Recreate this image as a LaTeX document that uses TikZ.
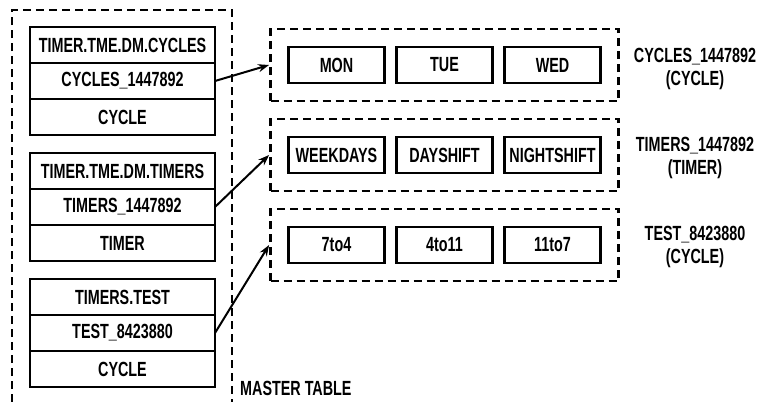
\documentclass[tikz,border=0pt]{standalone}
\usepackage{fontspec}
\setmainfont[FakeStretch=0.7]{Liberation Sans}
\usepackage{tikz}
\usetikzlibrary{arrows.meta,positioning,fit}

\begin{document}
\begin{tikzpicture}[
    x=1pt, y=-1pt,
    font=\fontsize{20.5}{23}\selectfont\bfseries,
    cell/.style={rectangle, draw=black, line width=2.8pt, outer sep=0pt, minimum width=185pt, minimum height=36pt, inner sep=0pt},
    daybox/.style={rectangle, draw=black, line width=2.8pt, outer sep=0pt, minimum width=96pt, minimum height=36pt, inner sep=0pt},
    grp/.style={draw=black, line width=2.8pt, dash pattern=on 8pt off 5pt},
    ptr/.style={-{Stealth[length=11pt,width=8pt]}, line width=2pt},
    tag/.style={align=center, inner sep=0pt}
]
\useasboundingbox (0,0) rectangle (764,402);

% Master table
\node[cell] (cyc1) at (122.5,45) {TIMER.TME.DM.CYCLES};
\node[cell, below=0pt of cyc1] (cyc2) {CYCLES\_1447892};
\node[cell, below=0pt of cyc2] (cyc3) {CYCLE};

\node[cell] (tim1) at (122.5,171) {TIMER.TME.DM.TIMERS};
\node[cell, below=0pt of tim1] (tim2) {TIMERS\_1447892};
\node[cell, below=0pt of tim2] (tim3) {TIMER};

\node[cell] (tst1) at (122.5,297) {TIMERS.TEST};
\node[cell, below=0pt of tst1] (tst2) {TEST\_8423880};
\node[cell, below=0pt of tst2] (tst3) {CYCLE};

\draw[grp] (12,402) |- (232,10) -- (232,402);
\node[anchor=west, inner sep=0pt] (mastername) at (240,388) {MASTER TABLE};

% Cycles
\node[daybox] (mon) at (336.5,65) {MON};
\node[daybox, right=12pt of mon] (tue) {TUE};
\node[daybox, right=12pt of tue] (wed) {WED};
\node[grp, fit=(mon)(wed), inner sep=18pt] (cycgrp) {};

% Timers
\node[daybox] (weekdays) at (336.5,155) {WEEKDAYS};
\node[daybox, right=12pt of weekdays] (dayshift) {DAYSHIFT};
\node[daybox, right=12pt of dayshift] (nightshift) {NIGHTSHIFT};
\node[grp, fit=(weekdays)(nightshift), inner sep=18pt] (timgrp) {};

% Test
\node[daybox] (sevtofour) at (336.5,245) {7to4};
\node[daybox, right=12pt of sevtofour] (fourtoelev) {4to11};
\node[daybox, right=12pt of fourtoelev] (elevtosev) {11to7};
\node[grp, fit=(sevtofour)(elevtosev), inner sep=18pt] (tstgrp) {};

% Labels
\node[tag] (cyclabel) at (695,69) {CYCLES\_1447892\\(CYCLE)};
\node[tag] (timlabel) at (695,158) {TIMERS\_1447892\\(TIMER)};
\node[tag] (tstlabel) at (695,247) {TEST\_8423880\\(CYCLE)};

% Arrows
\draw[ptr] (cyc2.east) -- (cycgrp.west);
\draw[ptr] (tim2.east) -- (timgrp.west);
\draw[ptr] (tst2.east) -- (tstgrp.west);
\end{tikzpicture}
\end{document}
